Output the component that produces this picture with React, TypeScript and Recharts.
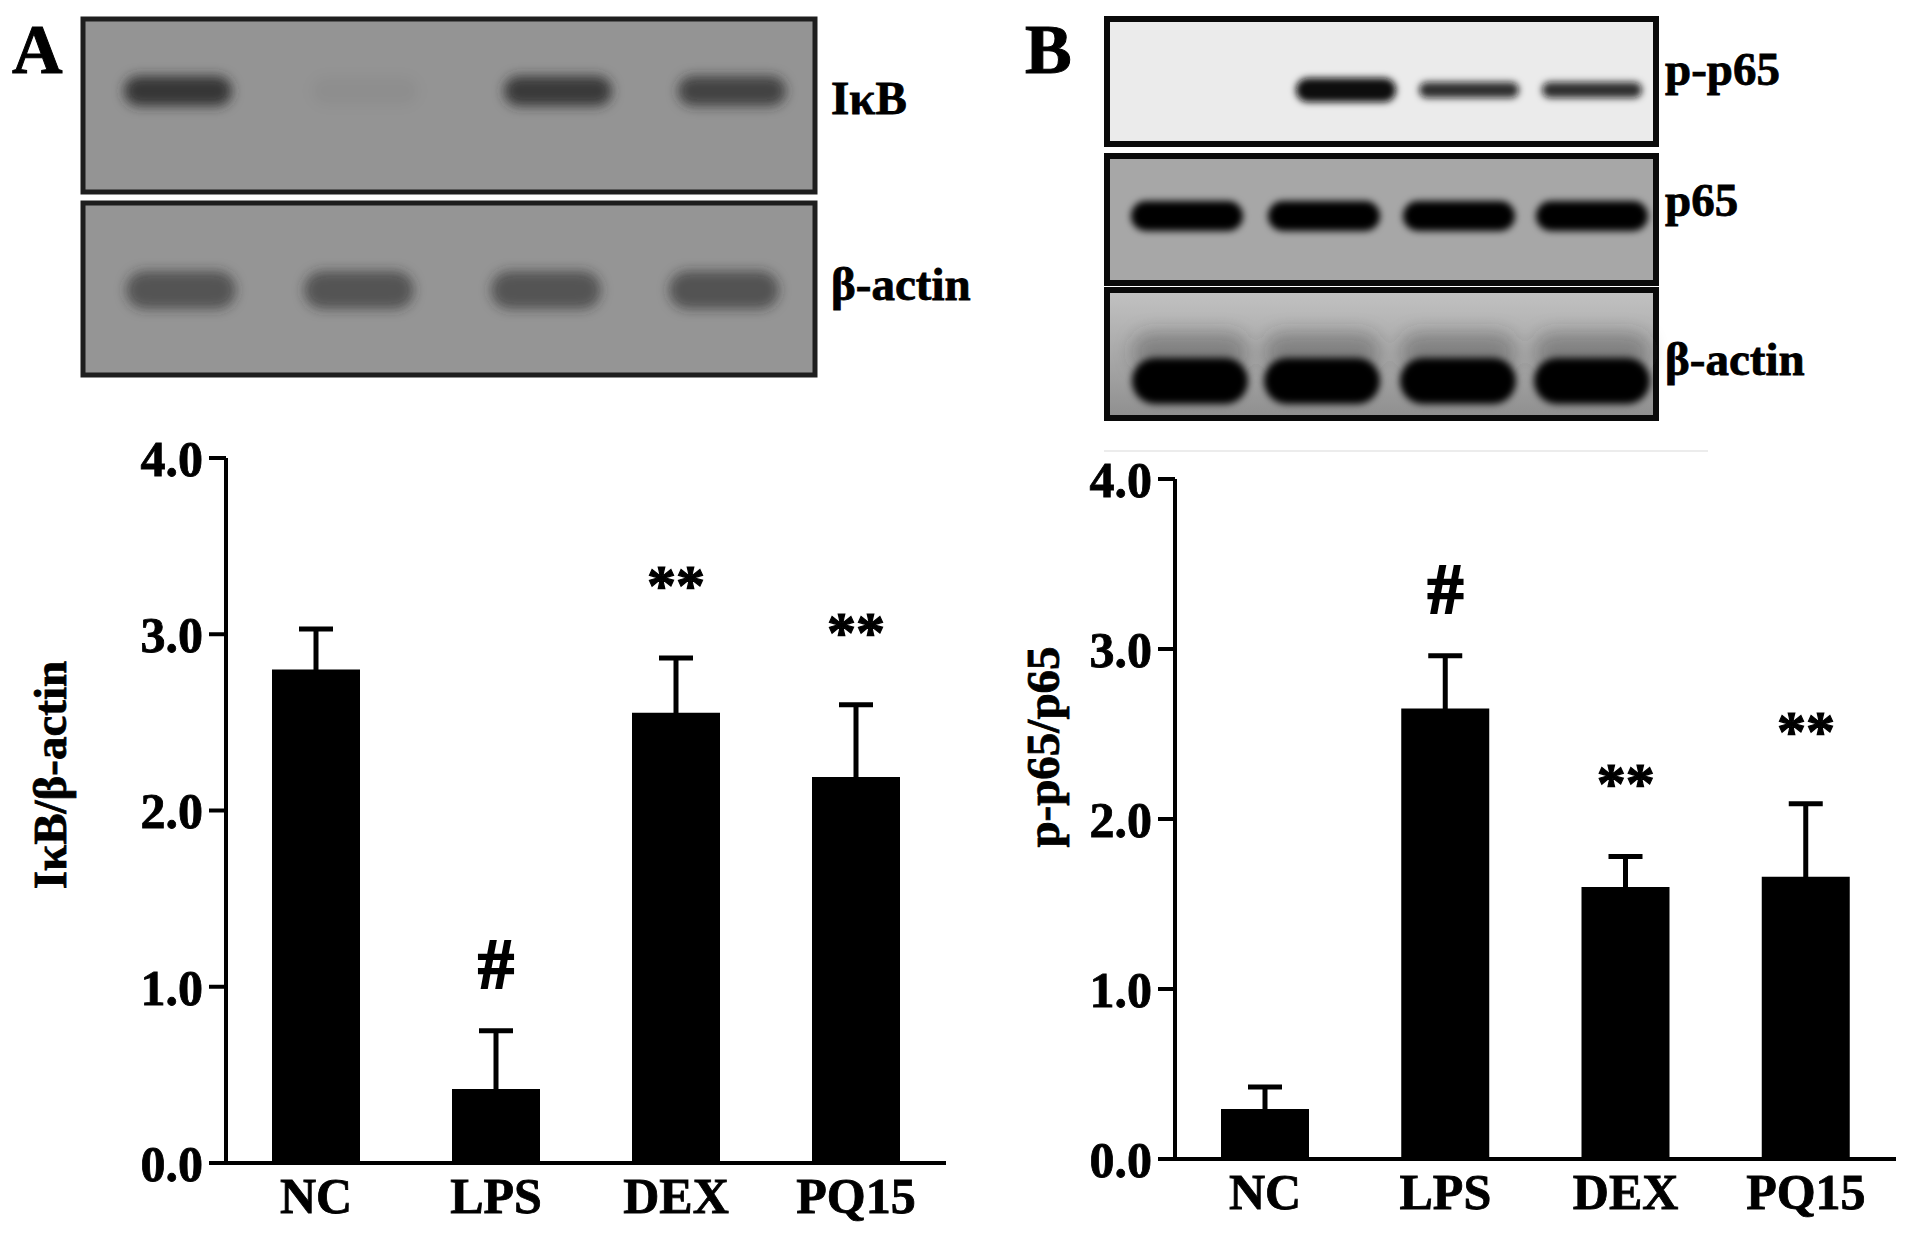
import React from 'react';
import { ComposedChart, Bar, Line, XAxis, YAxis, ErrorBar, LabelList } from 'recharts';

// ---------- data ----------
const categories = ['NC', 'LPS', 'DEX', 'PQ15'];
const ikbRatio = [2.8, 0.42, 2.555, 2.19];
const ikbError = [0.23, 0.33, 0.31, 0.41];
const ikbMarks = ['', '#', '**', '**'];
const pp65Ratio = [0.294, 2.65, 1.6, 1.66];
const pp65Error = [0.13, 0.31, 0.18, 0.43];
const pp65Marks = ['', '#', '**', '**'];
const yTicks = [0, 1, 2, 3, 4];
const edgeTicks = [0, 1, 2, 3, 4];

// blot band intensities (0..1) per lane
const ikbBand = [0.88, 0.04, 0.85, 0.75];
const actinABand = [0.62, 0.62, 0.62, 0.6];
const pp65Band = [0, 1, 0.85, 0.85];
const p65Band = [1, 1, 1, 1];
const actinBBand = [1, 1, 1, 1];

const FONT = "'Liberation Serif', 'Times New Roman', serif";

const buildRows = (vals: number[], errs: number[], marks: string[]) =>
  categories.map((name, i) => ({ name, value: vals[i], err: errs[i], top: vals[i] + errs[i], mark: marks[i] }));

const rowsA = buildRows(ikbRatio, ikbError, ikbMarks);
const rowsB = buildRows(pp65Ratio, pp65Error, pp65Marks);

const MarkLabel = (props: any) => {
  const vb = props.viewBox || {};
  const x = props.x ?? vb.x;
  const y = props.y ?? vb.y;
  const value = props.value;
  if (!value || x == null || y == null) return null;
  const isHash = value === '#';
  return (
    <text
      x={x}
      y={y - (isHash ? 43 : 53)}
      textAnchor="middle"
      fontFamily={FONT}
      fontWeight="bold"
      fontSize={isHash ? 72 : 58}
      fill="#000"
      stroke="#000"
      strokeWidth={isHash ? 2 : 1.2}
    >
      {value}
    </text>
  );
};

const tickStyle = { fill: '#000', fontSize: 50, fontWeight: 'bold', fontFamily: FONT, stroke: '#000', strokeWidth: 0.8 } as any;

function BarPanel(props: { rows: any[]; width: number; height: number; left: number; top: number; margin: any; yWidth: number; catHeight: number }) {
  const { rows, width, height, left, top, margin, yWidth, catHeight } = props;
  return (
    <div style={{ position: 'absolute', left, top, width, height }}>
      <ComposedChart width={width} height={height} data={rows} margin={margin}>
        <XAxis
          xAxisId="edge"
          type="number"
          domain={[0, 4]}
          ticks={edgeTicks}
          allowDataOverflow
          tick={false}
          axisLine={false}
          tickLine={{ stroke: '#000', strokeWidth: 4 }}
          tickSize={17}
          height={1}
        />
        <XAxis
          xAxisId="cat"
          dataKey="name"
          type="category"
          interval={0}
          axisLine={{ stroke: '#000', strokeWidth: 4 }}
          tickLine={false}
          tickSize={6}
          tickMargin={8}
          tick={tickStyle}
          height={catHeight}
        />
        <YAxis
          domain={[0, 4]}
          ticks={yTicks}
          allowDataOverflow
          width={yWidth}
          tickFormatter={(v: number) => v.toFixed(1)}
          axisLine={{ stroke: '#000', strokeWidth: 4 }}
          tickLine={{ stroke: '#000', strokeWidth: 4 }}
          tickSize={17}
          tickMargin={6}
          tick={tickStyle}
        />
        <Bar xAxisId="cat" dataKey="value" fill="#000" barSize={88} isAnimationActive={false}>
          <ErrorBar dataKey="err" width={17} strokeWidth={5} stroke="#000" direction="y" />
        </Bar>
        <Line
          xAxisId="cat"
          dataKey="top"
          stroke="none"
          dot={false}
          activeDot={false}
          isAnimationActive={false}
          legendType="none"
        >
          <LabelList dataKey="mark" content={MarkLabel} />
        </Line>
      </ComposedChart>
    </div>
  );
}

// ---------- blot drawing helpers ----------
function Bands(props: { xs: number[]; y: number; w: number; h: number; levels: number[]; color: string; blur: string; hs?: number[] }) {
  const { xs, y, w, h, levels, color, blur, hs } = props;
  return (
    <g filter={`url(#${blur})`}>
      {xs.map((cx, i) => {
        const hh = hs ? hs[i] : h;
        return levels[i] > 0 ? (
          <rect key={i} x={cx - w / 2} y={y - hh / 2} width={w} height={hh} rx={hh / 2} fill={color} opacity={levels[i]} />
        ) : null;
      })}
    </g>
  );
}

const labelProps = { fontFamily: FONT, fontWeight: 'bold', fontSize: 47, fill: '#000', stroke: '#000', strokeWidth: 0.8 } as any;

function Blots() {
  return (
    <svg width={1913} height={1233} style={{ position: 'absolute', left: 0, top: 0 }}>
      <defs>
        <filter id="blurA" x="-30%" y="-100%" width="160%" height="300%">
          <feGaussianBlur stdDeviation="6" />
        </filter>
        <filter id="blurB" x="-30%" y="-100%" width="160%" height="300%">
          <feGaussianBlur stdDeviation="3.5" />
        </filter>
        <filter id="blurC" x="-30%" y="-100%" width="160%" height="300%">
          <feGaussianBlur stdDeviation="9" />
        </filter>
        <linearGradient id="actinBg" x1="0" y1="0" x2="0" y2="1">
          <stop offset="0" stopColor="#c2c2c2" />
          <stop offset="0.5" stopColor="#a9a9a9" />
          <stop offset="1" stopColor="#8f8f8f" />
        </linearGradient>
      </defs>

      {/* Panel letters */}
      <text x={12} y={73} fontFamily={FONT} fontWeight="bold" fontSize={70} fill="#000" stroke="#000" strokeWidth={1}>A</text>
      <text x={1025} y={73} fontFamily={FONT} fontWeight="bold" fontSize={70} fill="#000" stroke="#000" strokeWidth={1}>B</text>

      {/* A: IκB */}
      <rect x={83} y={19} width={732} height={173} fill="#949494" stroke="#1e1e1e" strokeWidth={5} />
      <Bands xs={[178, 365, 558, 732]} y={91} w={108} h={30} levels={ikbBand} color="#2a2a2a" blur="blurA" />
      {/* A: β-actin */}
      <rect x={83} y={203} width={732} height={172} fill="#959595" stroke="#1e1e1e" strokeWidth={5} />
      <Bands xs={[181, 359, 546, 724]} y={290} w={110} h={38} levels={actinABand} color="#2a2a2a" blur="blurA" />
      <text x={831} y={114} {...labelProps}>IκB</text>
      <text x={831} y={300} {...labelProps}>β-actin</text>

      {/* B: p-p65 */}
      <rect x={1107} y={19} width={549} height={125} fill="#ebebeb" stroke="#0a0a0a" strokeWidth={6} />
      <Bands xs={[1187, 1346, 1469, 1592]} y={90} w={100} h={18} hs={[18, 24, 16, 16]} levels={pp65Band} color="#0a0a0a" blur="blurB" />
      {/* B: p65 */}
      <rect x={1107} y={156} width={549} height={127} fill="#a7a7a7" stroke="#0a0a0a" strokeWidth={6} />
      <Bands xs={[1187, 1324, 1459, 1592]} y={216} w={112} h={30} levels={p65Band} color="#050505" blur="blurB" />
      {/* B: β-actin */}
      <rect x={1107} y={290} width={549} height={128} fill="url(#actinBg)" stroke="#0a0a0a" strokeWidth={6} />
      <Bands xs={[1190, 1322, 1458, 1592]} y={352} w={116} h={40} levels={[0.35, 0.35, 0.35, 0.35]} color="#333" blur="blurC" />
      <Bands xs={[1190, 1322, 1458, 1592]} y={381} w={116} h={46} levels={actinBBand} color="#050505" blur="blurB" />
      <text x={1665} y={85} {...labelProps}>p-p65</text>
      <text x={1665} y={216} {...labelProps}>p65</text>
      <text x={1665} y={375} {...labelProps}>β-actin</text>

      {/* faint scan line */}
      <line x1={1104} y1={451} x2={1708} y2={451} stroke="#ececec" strokeWidth={2} />

      {/* y-axis titles */}
      <text
        x={50}
        y={775}
        transform="rotate(-90 50 775)"
        textAnchor="middle"
        dominantBaseline="central"
        {...labelProps}
      >
        IκB/β-actin
      </text>
      <text
        x={1043}
        y={747}
        transform="rotate(-90 1043 747)"
        textAnchor="middle"
        dominantBaseline="central"
        {...labelProps}
      >
        p-p65/p65
      </text>
    </svg>
  );
}

export default function App() {
  return (
    <div style={{ position: 'absolute', left: 0, top: 0, width: 1913, height: 1233, background: '#fff', overflow: 'hidden' }}>
      <Blots />
      <BarPanel
        rows={rowsA}
        width={980}
        height={813}
        left={0}
        top={420}
        margin={{ top: 38, right: 34, bottom: 0, left: 26 }}
        yWidth={200}
        catHeight={69}
      />
      <BarPanel
        rows={rowsB}
        width={933}
        height={813}
        left={980}
        top={420}
        margin={{ top: 59, right: 17, bottom: 0, left: 15 }}
        yWidth={180}
        catHeight={73}
      />
    </div>
  );
}
